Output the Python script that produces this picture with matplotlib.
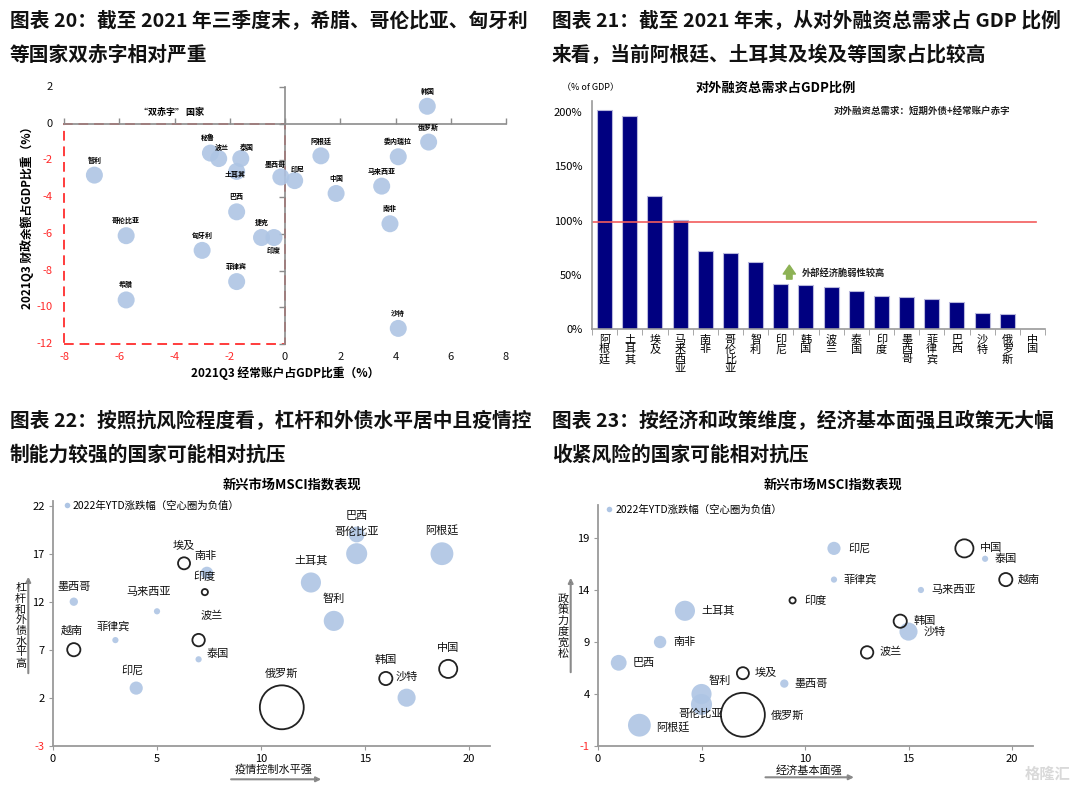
import numpy as np
import matplotlib
matplotlib.use('Agg')
import matplotlib.pyplot as plt
from matplotlib.patches import Rectangle
from matplotlib.lines import Line2D

plt.rcParams['font.family'] = ['Noto Sans CJK SC', 'DejaVu Sans']
plt.rcParams['axes.unicode_minus'] = False

# 图表20：双赤字
dd_names = ['韩国', '俄罗斯', '智利', '秘鲁', '波兰', '泰国', '土耳其', '墨西哥', '印尼', '阿根廷',
            '委内瑞拉', '中国', '马来西亚', '巴西', '南非', '哥伦比亚', '匈牙利', '捷克', '印度',
            '菲律宾', '希腊', '沙特']
dd_ca = [5.15, 5.2, -6.9, -2.7, -2.4, -1.6, -1.75, -0.15, 0.35, 1.3,
         4.1, 1.85, 3.5, -1.75, 3.8, -5.75, -3.0, -0.85, -0.4,
         -1.75, -5.75, 4.1]
dd_fiscal = [0.95, -1.0, -2.8, -1.6, -1.9, -1.9, -2.6, -2.9, -3.1, -1.75,
             -1.8, -3.8, -3.4, -4.8, -5.45, -6.1, -6.9, -6.2, -6.2,
             -8.6, -9.6, -11.15]

# 图表21：对外融资总需求占GDP比例（%）
fin_names = ['阿根廷', '土耳其', '埃及', '马来西亚', '南非', '哥伦比亚', '智利', '印尼', '韩国',
             '波兰', '泰国', '印度', '墨西哥', '菲律宾', '巴西', '沙特', '俄罗斯', '中国']
fin_values = [202, 197, 123, 101, 72, 70, 62, 42, 41, 39, 35, 30.5, 30, 28, 25, 15, 13.5, 0]
fin_threshold = 99

# 图表22/23：新兴市场MSCI指数表现
em_names = ['墨西哥', '越南', '菲律宾', '印尼', '马来西亚', '埃及', '南非', '印度', '波兰', '泰国',
            '俄罗斯', '土耳其', '智利', '哥伦比亚', '巴西', '阿根廷', '韩国', '沙特', '中国']
em_ytd = [3.6, -9, 2, 9, 2, -7.5, 8, -2, -8, 2,
          -100, 21, 21, 23, 13, 27, -9, 17, -17]
em_covid = [1, 1, 3, 4, 5, 6.3, 7.4, 7.3, 7, 7,
            11, 12.4, 13.5, 14.6, 14.6, 18.7, 16, 17, 19]
em_leverage = [12, 7, 8, 3, 11, 16, 15, 13, 8, 6,
               1, 14, 10, 17, 19, 17, 4, 2, 5]
em_econ = [9, 19.7, 11.4, 11.4, 15.6, 7, 3, 9.4, 13, 18.7,
           7, 4.2, 5, 5, 1, 2, 14.6, 15, 17.7]
em_policy = [5, 15, 15, 18, 14, 6, 9, 13, 8, 17,
             2, 12, 4, 3, 7, 1, 11, 10, 18]

W, H = 1080, 791
BLUE = '#aec5e4'
GRAY = '#9a9a9a'
RED = '#ff2a2a'

fig = plt.figure(figsize=(W / 100, H / 100), dpi=100)


def box(x0, y0, x1, y1):
    return [x0 / W, 1 - y1 / H, (x1 - x0) / W, (y1 - y0) / H]


def fx(x):
    return x / W


def fy(y):
    return 1 - y / H


# titles
tkw = dict(fontsize=14.2, fontweight='bold', ha='left', va='center', color='#111')
fig.text(fx(10), fy(21), '图表 20：截至 2021 年三季度末，希腊、哥伦比亚、匈牙利', **tkw)
fig.text(fx(10), fy(55), '等国家双赤字相对严重', **tkw)
fig.text(fx(552), fy(21), '图表 21：截至 2021 年末，从对外融资总需求占 GDP 比例', **tkw)
fig.text(fx(552), fy(55), '来看，当前阿根廷、土耳其及埃及等国家占比较高', **tkw)
fig.text(fx(10), fy(421), '图表 22：按照抗风险程度看，杠杆和外债水平居中且疫情控', **tkw)
fig.text(fx(10), fy(455), '制能力较强的国家可能相对抗压', **tkw)
fig.text(fx(552), fy(421), '图表 23：按经济和政策维度，经济基本面强且政策无大幅', **tkw)
fig.text(fx(552), fy(455), '收紧风险的国家可能相对抗压', **tkw)

# ---------------- 图表20 ----------------
ax1 = fig.add_axes(box(64, 87, 506, 344))
ax1.set_xlim(-8, 8)
ax1.set_ylim(-12, 2)
for s in ['top', 'right']:
    ax1.spines[s].set_visible(False)
for s in ['left', 'bottom']:
    ax1.spines[s].set_position(('data', 0))
    ax1.spines[s].set_color('#8c8c8c')
    ax1.spines[s].set_linewidth(1.2)
ax1.set_xticks(range(-8, 9, 2))
ax1.set_yticks(range(-12, 3, 2))
ax1.tick_params(labelleft=False, labelbottom=False, color='#8c8c8c', length=4, width=1)
ax1.tick_params(axis='x', direction='in')
ax1.add_patch(Rectangle((-8, -12), 8, 12, fill=False, ec='#ff3c3c', ls=(0, (5, 3)),
                        lw=1.4, clip_on=False, zorder=1))
for v in range(-12, 3, 2):
    ax1.text(-0.025, v, str(v), transform=ax1.get_yaxis_transform(), ha='right', va='center',
             fontsize=8, color=RED if v < 0 else '#111')
for v in range(-8, 9, 2):
    ax1.text(v, -0.05, str(v), transform=ax1.get_xaxis_transform(), ha='center', va='center',
             fontsize=8, color=RED if v < 0 else '#111')
ax1.scatter(dd_ca, dd_fiscal, s=150, color=BLUE, alpha=0.9, edgecolors='none', zorder=3)
dd_off = {'印度': (0, -13), '土耳其': (-1, -3), '墨西哥': (-6, 12), '印尼': (3, 11),
          '泰国': (6, 11), '波兰': (3, 12), '秘鲁': (-3, 16)}
for n, x, y in zip(dd_names, dd_ca, dd_fiscal):
    ax1.annotate(n, (x, y), xytext=dd_off.get(n, (0, 15)), textcoords='offset pixels',
                 ha='center', va='center', fontsize=5, fontweight='bold', zorder=4)
ax1.text(-4.1, 0.63, '“双赤字” 国家', ha='center', va='center', fontsize=6.5, fontweight='bold')
fig.text(fx(27), fy(215), '2021Q3 财政余额占GDP比重（%）', rotation=90, ha='center', va='center',
         fontsize=8.5, fontweight='bold')
fig.text(fx(285), fy(373), '2021Q3 经常账户占GDP比重（%）', ha='center', va='center',
         fontsize=8.5, fontweight='bold')

# ---------------- 图表21 ----------------
ax2 = fig.add_axes(box(592, 101.5, 1045, 329))
xpos = np.arange(len(fin_names))
ax2.bar(xpos, fin_values, width=0.6, color='#000080', edgecolor='#b8b8dc', linewidth=0.8)
ax2.axhline(fin_threshold, xmax=0.98, color='#f25c5c', lw=1.2)
ax2.set_xlim(-0.5, len(fin_names) - 0.5)
ax2.set_ylim(0, 210)
ax2.set_yticks(range(0, 201, 50))
ax2.set_yticklabels([f'{v}%' for v in range(0, 201, 50)])
ax2.set_xticks(xpos)
ax2.set_xticklabels(['\n'.join(n) for n in fin_names], linespacing=0.98)
ax2.set_xticks(np.arange(-0.5, len(fin_names), 1), minor=True)
ax2.tick_params(axis='x', which='major', length=0, pad=4, labelsize=8)
ax2.tick_params(axis='x', which='minor', length=4, color=GRAY)
ax2.tick_params(axis='y', length=0, pad=7, labelsize=8)
for lab in ax2.get_xticklabels():
    lab.set_va('top')
for s in ['top', 'right']:
    ax2.spines[s].set_visible(False)
for s in ['left', 'bottom']:
    ax2.spines[s].set_color(GRAY)
    ax2.spines[s].set_linewidth(1.2)
ax2.annotate('', xy=(7.34, 61.5), xytext=(7.34, 43.5),
             arrowprops=dict(arrowstyle='simple,head_width=1.1,head_length=0.8,tail_width=0.5',
                             color='#8db255', mutation_scale=8))
ax2.text(7.85, 51.5, '外部经济脆弱性较高', fontsize=6.7, style='italic', fontweight='bold',
         va='center', ha='left', color='#222')
fig.text(fx(776), fy(88), '对外融资总需求占GDP比例', ha='center', va='center', fontsize=9.5,
         fontweight='bold')
fig.text(fx(590), fy(88), '（% of GDP）', ha='center', va='center', fontsize=6.5)
fig.text(fx(922), fy(111), '对外融资总需求：短期外债+经常账户赤字', ha='center', va='center',
         fontsize=6.8, style='italic', fontweight='bold', color='#222')


# ---------------- 图表22 / 23 ----------------
def bubble_panel(ax, xs, ys, offsets, default_off, default_ha):
    sizes = [10 * abs(v) for v in em_ytd]
    order = np.argsort(sizes)[::-1]
    for i in order:
        if em_ytd[i] >= 0:
            ax.scatter(xs[i], ys[i], s=sizes[i], color=BLUE, edgecolors='none', alpha=0.9, zorder=3)
        else:
            ax.scatter(xs[i], ys[i], s=sizes[i], facecolors='none', edgecolors='#222',
                       linewidths=1.3, zorder=3)
    for n, x, y in zip(em_names, xs, ys):
        dx, dy, ha = offsets.get(n, default_off + (default_ha,))
        ax.annotate(n, (x, y), xytext=(dx, dy), textcoords='offset pixels', ha=ha,
                    va='center', fontsize=8, color='#111', zorder=4)
    for s in ['top', 'right']:
        ax.spines[s].set_visible(False)
    for s in ['left', 'bottom']:
        ax.spines[s].set_color(GRAY)
        ax.spines[s].set_linewidth(1.3)
    ax.tick_params(color=GRAY, length=3, labelsize=8, pad=3)
    h = Line2D([], [], marker='o', ls='', ms=4, mfc=BLUE, mec='none')
    return h


ax3 = fig.add_axes(box(53, 500.9, 489.8, 745.7))
ax3.set_xlim(0, 21)
ax3.set_ylim(-3, 22.5)
ax3.set_xticks([0, 5, 10, 15, 20])
ax3.set_yticks([-3, 2, 7, 12, 17, 22])
off3 = {'越南': (-2, 19, 'center'), '菲律宾': (-2, 14, 'center'), '印尼': (-4, 18, 'center'),
        '马来西亚': (-8, 19, 'center'), '埃及': (0, 17, 'center'), '南非': (-1, 17, 'center'),
        '印度': (0, 15, 'center'), '波兰': (13, 24, 'center'), '泰国': (19, 5, 'center'),
        '俄罗斯': (0, 34, 'center'), '土耳其': (0, 22, 'center'), '智利': (0, 22, 'center'),
        '哥伦比亚': (0, 22, 'center'), '巴西': (0, 19, 'center'), '阿根廷': (0, 23, 'center'),
        '韩国': (0, 19, 'center'), '沙特': (0, 21, 'center'), '中国': (0, 21, 'center')}
h3 = bubble_panel(ax3, em_covid, em_leverage, off3, (0, 15), 'center')
ax3.get_yticklabels()[0].set_color(RED)
ax3.legend([h3], ['2022年YTD涨跌幅（空心圈为负值）'], loc='upper left', bbox_to_anchor=(0.024, 1.0),
           frameon=False, fontsize=7.5, handlelength=0.6, handletextpad=0.3,
           borderaxespad=0, borderpad=0)
fig.text(fx(291.7), fy(485), '新兴市场MSCI指数表现', ha='center', va='center', fontsize=9.5,
         fontweight='bold')
fig.text(fx(20.7), fy(626), '\n'.join('杠杆和外债水平高'), ha='center', va='center',
         fontsize=8, linespacing=1.08, color='#111')
fig.text(fx(273.3), fy(769), '疫情控制水平强', ha='center', va='center', fontsize=8, color='#111')
akw = dict(arrowstyle='-|>', ec='#8a8a8a', fc='#111', lw=1.5, mutation_scale=7)
ax3.annotate('', xy=(fx(28.3), fy(574)), xytext=(fx(28.3), fy(676)), xycoords='figure fraction',
             arrowprops=akw)
ax3.annotate('', xy=(fx(324), fy(779.3)), xytext=(fx(228.3), fy(779.3)),
             xycoords='figure fraction', arrowprops=akw)

ax4 = fig.add_axes(box(598, 504.7, 1032.7, 746))
ax4.set_xlim(0, 21)
ax4.set_ylim(-1, 22.2)
ax4.set_xticks([0, 5, 10, 15, 20])
ax4.set_yticks([-1, 4, 9, 14, 19])
off4 = {'印尼': (14, 0, 'left'), '菲律宾': (10, 0, 'left'), '马来西亚': (10, 0, 'left'),
        '中国': (16, 0, 'left'), '泰国': (10, 0, 'left'), '越南': (12, 0, 'left'),
        '韩国': (13, 0, 'left'), '印度': (12, 0, 'left'), '土耳其': (17, 0, 'left'),
        '沙特': (15, 0, 'left'), '波兰': (12, 0, 'left'), '南非': (13, 0, 'left'),
        '巴西': (14, 0, 'left'), '埃及': (12, 0, 'left'), '墨西哥': (10, 0, 'left'),
        '智利': (7, 13, 'left'), '哥伦比亚': (-1, -9, 'center'), '俄罗斯': (28, -1, 'left'),
        '阿根廷': (17, -2, 'left')}
h4 = bubble_panel(ax4, em_econ, em_policy, off4, (12, 0), 'left')
ax4.get_yticklabels()[0].set_color(RED)
ax4.legend([h4], ['2022年YTD涨跌幅（空心圈为负值）'], loc='upper left', bbox_to_anchor=(0.018, 1.0),
           frameon=False, fontsize=7.5, handlelength=0.6, handletextpad=0.3,
           borderaxespad=0, borderpad=0)
fig.text(fx(832.5), fy(485), '新兴市场MSCI指数表现', ha='center', va='center', fontsize=9.5,
         fontweight='bold')
fig.text(fx(563.3), fy(626), '\n'.join('政策力度宽松'), ha='center', va='center',
         fontsize=8, linespacing=1.08, color='#111')
fig.text(fx(809.3), fy(770), '经济基本面强', ha='center', va='center', fontsize=8, color='#111')
ax4.annotate('', xy=(fx(570.7), fy(575)), xytext=(fx(570.7), fy(675)), xycoords='figure fraction',
             arrowprops=akw)
ax4.annotate('', xy=(fx(856.7), fy(777.3)), xytext=(fx(762.7), fy(777.3)),
             xycoords='figure fraction', arrowprops=akw)

fig.text(fx(1048), fy(774), '格隆汇', ha='center', va='center', fontsize=11, color='#d9d9d9',
         fontweight='bold')

fig.savefig('out.png', dpi=100)
